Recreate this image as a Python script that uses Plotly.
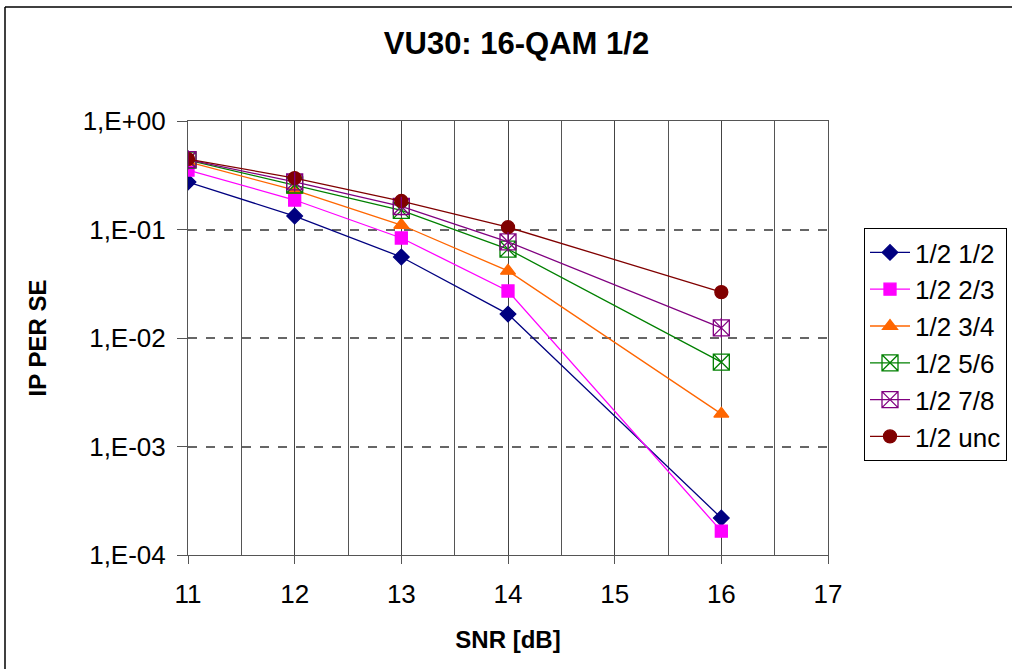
import plotly.graph_objects as go

snr = [11, 12, 13, 14, 16]
names = ["1/2 1/2", "1/2 2/3", "1/2 3/4", "1/2 5/6", "1/2 7/8", "1/2 unc"]
per_12 = [0.274, 0.133, 0.0558, 0.0166, 2.19e-4]
per_23 = [0.353, 0.187, 0.0835, 0.0271, 1.66e-4]
per_34 = [0.42, 0.231, 0.110, 0.0415, 2.0e-3]
per_56 = [0.437, 0.257, 0.150, 0.066, 6.0e-3]
per_78 = [0.44, 0.275, 0.163, 0.077, 0.0124]
per_unc = [0.446, 0.298, 0.183, 0.105, 0.0265]
series = [per_12, per_23, per_34, per_56, per_78, per_unc]
colors = ["#000080", "#FF00FF", "#FF6600", "#008000", "#800080", "#800000"]
symbols = ["diamond", "square", "triangle-up", "square-x-open", "square-x-open", "circle"]
sizes = [12, 12, 13, 16, 16, 13]

ytickvals = [1, 0.1, 0.01, 0.001, 0.0001]
yticktext = ["1,E+00", "1,E-01", "1,E-02", "1,E-03", "1,E-04"]

FONT = "Liberation Sans, Arial, sans-serif"

fig = go.Figure()
for i, (nm, ys) in enumerate(zip(names, series)):
    fig.add_trace(go.Scatter(
        x=snr, y=ys, name=nm, mode="lines+markers", legendgroup=nm,
        line=dict(color=colors[i], width=1.3),
        marker=dict(symbol=symbols[i], size=sizes[i], color=colors[i],
                    line=dict(color=colors[i], width=1.3)),
    ))
# vertical stroke inside the 7/8 marker
fig.add_trace(go.Scatter(
    x=snr, y=per_78, mode="markers", showlegend=False, hoverinfo="skip",
    marker=dict(symbol="line-ns-open", size=14, color=colors[4],
                line=dict(color=colors[4], width=1.3)),
))

left_px = (5 - 188) / 640
top_px = (555 - 7) / 434
fig.update_layout(
    width=1012, height=669,
    margin=dict(l=188, r=184, t=121, b=114, autoexpand=False),
    paper_bgcolor="white", plot_bgcolor="white",
    font=dict(family=FONT, size=26, color="black"),
    title=dict(text="<b>VU30: 16-QAM 1/2</b>", x=(378 + 655) / 2 / 1012, xanchor="center",
               y=1 - 43 / 669, yanchor="middle", font=dict(size=31)),
    showlegend=True,
    legend=dict(x=(864 - 188) / 640, xanchor="left", y=(555 - 228) / 434, yanchor="top",
                bordercolor="black", borderwidth=1, bgcolor="white",
                font=dict(size=26), tracegroupgap=0, itemwidth=40),
    shapes=[
        dict(type="line", xref="paper", yref="paper", x0=left_px, x1=3, y0=top_px, y1=top_px,
             line=dict(color="black", width=1.5), layer="below"),
        dict(type="line", xref="paper", yref="paper", x0=left_px, x1=left_px, y0=-1, y1=top_px,
             line=dict(color="black", width=1.5), layer="below"),
    ],
)
fig.update_xaxes(
    range=[11, 17], dtick=1, tick0=11,
    showline=True, linecolor="#555", linewidth=1, mirror=True,
    ticks="outside", ticklen=8, tickcolor="#555", ticklabelstandoff=8,
    showgrid=True, gridcolor="#444", gridwidth=1,
    minor=dict(dtick=0.5, showgrid=True, gridcolor="#555", gridwidth=1),
    zeroline=False,
    title=dict(text="<b>SNR [dB]</b>", font=dict(size=24), standoff=22),
)
fig.update_yaxes(
    type="log", range=[-4, 0], tickvals=ytickvals, ticktext=yticktext,
    showline=True, linecolor="#555", linewidth=1, mirror=True,
    ticks="outside", ticklen=10, tickcolor="#555", ticklabelstandoff=6,
    showgrid=True, gridcolor="#666", gridwidth=1.5, griddash="dash",
    zeroline=False,
    title=dict(text="<b>IP PER SE</b>", font=dict(size=24), standoff=29),
)

fig.write_html("out.html")
